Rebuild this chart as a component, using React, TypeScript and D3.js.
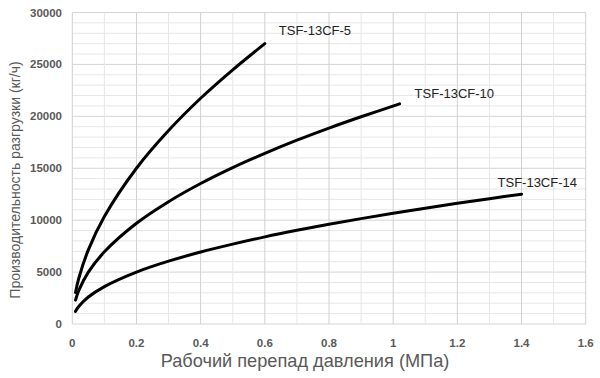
import React from "react";
import * as d3 from "d3";

const xTicks = [0, 0.2, 0.4, 0.6, 0.8, 1, 1.2, 1.4, 1.6];
const yTicks = [0, 5000, 10000, 15000, 20000, 25000, 30000];

const x5 = [0.01, 0.02, 0.05, 0.1, 0.2, 0.3, 0.4, 0.5, 0.6];
const y5 = [3030, 4380, 7140, 10350, 15000, 18630, 21740, 24480, 27000];

const x10 = [0.01, 0.02, 0.05, 0.1, 0.2, 0.3, 0.4, 0.5, 0.6, 0.7, 0.8, 0.9, 1.02];
const y10 = [2300, 3210, 4990, 6950, 9700, 11780, 13530, 15060, 16430, 17700, 18870, 19960, 21200];

const x14 = [0.01, 0.02, 0.05, 0.1, 0.2, 0.3, 0.4, 0.5, 0.6, 0.7, 0.8, 0.9, 1.0, 1.1, 1.2, 1.3, 1.4];
const y14 = [1220, 1690, 2600, 3605, 5000, 6050, 6930, 7690, 8390, 9020, 9600, 10150, 10665, 11150, 11620, 12070, 12500];

const seriesNames = ["TSF-13CF-5", "TSF-13CF-10", "TSF-13CF-14"];

export default function App() {
  const W = 600, H = 378;
  const x = d3.scaleLinear().domain([0, 1.6]).range([72.3, 585.7]);
  const y = d3.scaleLinear().domain([0, 30000]).range([324, 12.5]);
  const line = d3
    .line<[number, number]>()
    .x((d) => x(d[0]))
    .y((d) => y(d[1]))
    .curve(d3.curveCatmullRom);

  const series = [
    { name: seriesNames[0], pts: x5.map((v, i) => [v, y5[i]] as [number, number]) },
    { name: seriesNames[1], pts: x10.map((v, i) => [v, y10[i]] as [number, number]) },
    { name: seriesNames[2], pts: x14.map((v, i) => [v, y14[i]] as [number, number]) },
  ];

  const minorX = d3.range(0, 17).map((i) => i / 10);
  const minorY = d3.range(0, 31).map((i) => i * 1000);

  const labelPos = [
    { dx: 14, dy: -13.5 },
    { dx: 15, dy: -10 },
    { dx: -24, dy: -12 },
  ];

  return (
    <svg width={W} height={H} style={{ position: "absolute", left: 0, top: 0, background: "#fff" }}>
      <g>
        {minorY.map((v) => (
          <line key={"my" + v} x1={x(0)} x2={x(1.6)} y1={y(v)} y2={y(v)}
            stroke={v % 5000 === 0 ? "#d4d4d4" : "#e6e6e6"} strokeWidth={1} />
        ))}
        {minorX.map((v, i) => (
          <line key={"mx" + i} x1={x(v)} x2={x(v)} y1={y(0)} y2={y(30000)}
            stroke={i % 2 === 0 ? "#d0d0d0" : "#e6e6e6"} strokeWidth={1} />
        ))}
      </g>
      {yTicks.map((v) => (
        <text key={"yt" + v} x={62} y={y(v)} dy="0.35em" textAnchor="end"
          fontFamily="Liberation Sans, Arial, sans-serif" fontSize={11.5} fontWeight="bold" fill="#595959">
          {v}
        </text>
      ))}
      {xTicks.map((v) => (
        <text key={"xt" + v} x={x(v)} y={343} dy="0.35em" textAnchor="middle"
          fontFamily="Liberation Sans, Arial, sans-serif" fontSize={11.5} fontWeight="bold" fill="#595959">
          {v}
        </text>
      ))}
      {series.map((s) => (
        <path key={s.name} d={line(s.pts) || ""} fill="none" stroke="#000" strokeWidth={3} strokeLinecap="round" />
      ))}
      {series.map((s, i) => {
        const last = s.pts[s.pts.length - 1];
        return (
          <text key={"l" + s.name} x={x(last[0]) + labelPos[i].dx} y={y(last[1]) + labelPos[i].dy}
            dy="0.35em" fontFamily="Liberation Sans, Arial, sans-serif" fontSize={13} fill="#222">
            {s.name}
          </text>
        );
      })}
      <text x={305} y={361} dy="0.35em" textAnchor="middle"
        fontFamily="Liberation Sans, Arial, sans-serif" fontSize={18.2} fill="#595959">
        Рабочий перепад давления (МПа)
      </text>
      <text transform={`translate(15,${180}) rotate(-90)`} dy="0.35em" textAnchor="middle"
        fontFamily="Liberation Sans, Arial, sans-serif" fontSize={14} fill="#595959">
        Производительность разгрузки (кг/ч)
      </text>
    </svg>
  );
}
